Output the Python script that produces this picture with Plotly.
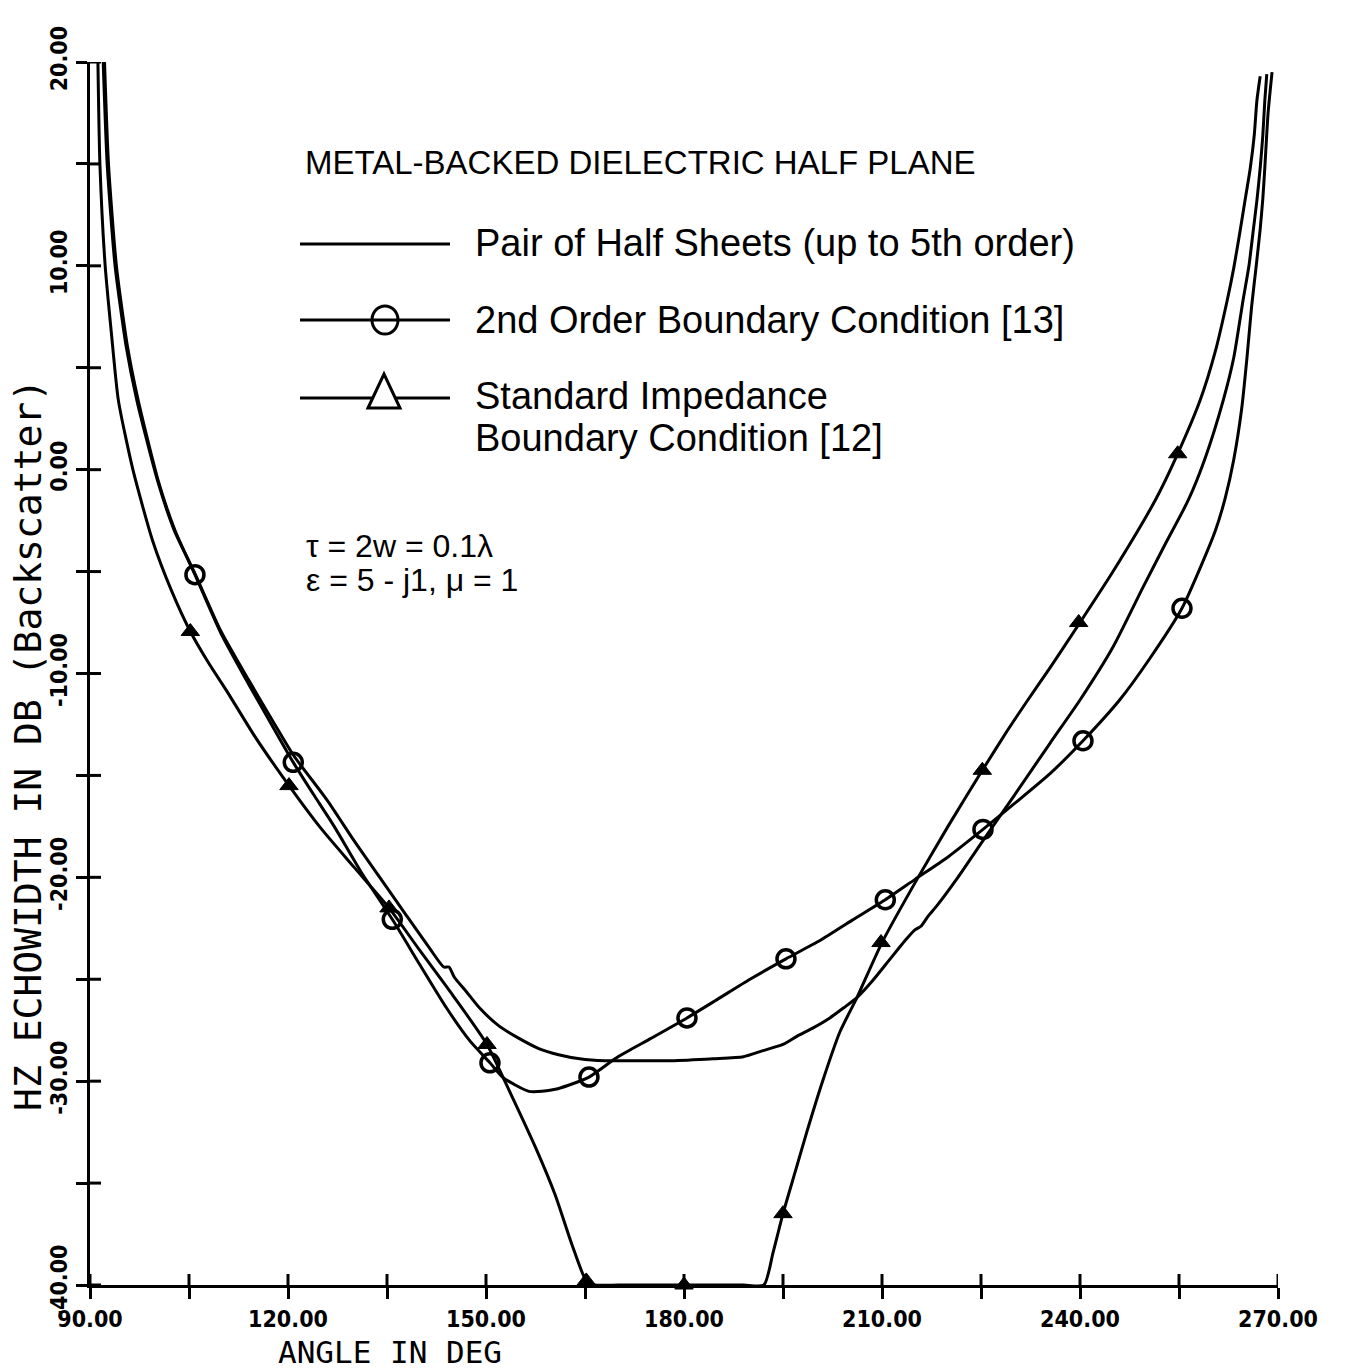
import plotly.graph_objects as go

# ---------------- data ----------------
# Pair of Half Sheets (up to 5th order) -- solid curve
sheets_x = [92.0, 92.6, 93.8, 95.5, 97.1, 100.2, 102.8, 105.9, 109.8, 114.0, 118.0, 120.8,
            125.9, 130.0, 133.9, 138.0, 141.5, 143.6, 144.4, 145.2, 147.0, 149.0, 152.0,
            155.0, 158.0, 161.0, 164.2, 168.0, 171.8, 178.0, 184.4, 189.0, 192.0, 195.0,
            197.1, 199.5, 202.1, 204.2, 206.2, 208.5, 211.0, 213.5, 214.9, 215.9, 217.0,
            218.3, 221.5, 225.3, 230.0, 235.5, 240.0, 245.0, 249.5, 253.0, 256.4, 259.0,
            261.7, 263.3, 264.7, 265.6, 266.2, 266.8, 267.3, 267.7, 268.0, 268.3]
sheets_y = [20.0, 15.0, 10.0, 6.0, 3.4, -0.5, -3.0, -5.1, -7.9, -10.3, -12.5, -14.0,
            -16.2, -18.2, -20.0, -21.9, -23.5, -24.4, -24.4, -24.9, -25.6, -26.4, -27.3,
            -27.9, -28.4, -28.7, -28.9, -29.0, -29.0, -29.0, -28.9, -28.8, -28.5, -28.2,
            -27.8, -27.4, -26.9, -26.4, -25.9, -25.1, -24.1, -23.1, -22.6, -22.4, -21.9,
            -21.4, -20.0, -18.2, -16.0, -13.4, -11.3, -8.7, -5.8, -3.6, -1.5, 0.6,
            3.4, 5.5, 8.3, 10.0, 11.6, 13.2, 14.8, 16.4, 18.1, 19.4]

# 2nd Order Boundary Condition [13] -- curve and circle markers
sobc_x = [92.2, 92.8, 94.0, 95.7, 97.3, 100.3, 102.9, 105.9, 109.8, 114.0, 117.5, 120.8,
          123.8, 127.0, 131.0, 135.8, 140.0, 144.0, 147.5, 150.6, 152.5, 154.5, 156.5,
          158.5, 160.5, 162.5, 165.6, 170.0, 175.0, 180.45, 185.0, 190.0, 195.45, 200.6,
          205.5, 210.5, 215.0, 220.0, 225.3, 230.0, 235.5, 240.45, 246.0, 250.5, 255.45,
          258.5, 260.5, 262.0, 263.3, 264.5, 265.3, 266.0, 266.7, 267.3, 267.7, 268.0,
          268.5, 269.1]
sobc_y = [20.0, 15.0, 10.0, 6.0, 3.4, -0.5, -3.0, -5.15, -8.0, -10.5, -12.5, -14.36,
          -15.9, -17.5, -19.7, -22.06, -24.3, -26.4, -28.0, -29.1, -29.8, -30.2, -30.5,
          -30.5, -30.4, -30.2, -29.8, -28.8, -27.9, -26.9, -26.0, -25.0, -24.0, -23.1,
          -22.1, -21.1, -20.1, -19.0, -17.65, -16.4, -14.9, -13.3, -11.3, -9.3, -6.8,
          -4.6, -3.0, -1.4, 0.5, 3.0, 5.5, 8.0, 10.0, 11.8, 13.3, 14.8, 17.5, 19.5]
sobc_mx = [105.9, 120.8, 135.8, 150.6, 165.6, 180.45, 195.45, 210.5, 225.3, 240.45, 255.45]
sobc_my = [-5.15, -14.36, -22.06, -29.1, -29.8, -26.9, -24.0, -21.1, -17.65, -13.3, -6.8]

# Standard Impedance Boundary Condition [12] -- curve and triangle markers
sibc_x = [91.2, 91.5, 92.3, 93.3, 94.3, 96.5, 99.5, 102.3, 105.2, 108.0, 110.8, 115.0,
          120.15, 125.0, 130.0, 135.3, 140.0, 145.0, 150.15, 154.0, 157.7, 160.5, 163.0,
          165.2, 166.5, 170.0, 175.0, 180.0, 185.0, 189.0, 192.1, 193.5, 195.0, 196.8,
          198.6, 201.0, 203.6, 206.2, 210.0, 215.3, 220.0, 225.2, 229.0, 232.1, 235.5,
          240.0, 245.0, 251.4, 254.8, 258.2, 260.5, 262.3, 263.3, 264.2, 265.0, 265.8,
          266.4, 266.8, 267.3]
sibc_y = [20.0, 15.0, 10.0, 6.5, 3.4, 0.0, -3.5, -5.9, -7.94, -9.5, -10.9, -13.1,
          -15.5, -17.6, -19.5, -21.5, -23.6, -25.8, -28.2, -30.8, -33.4, -35.6, -38.0,
          -39.8, -40.0, -40.0, -40.0, -40.0, -40.0, -40.0, -40.0, -38.4, -36.5, -34.5,
          -32.5, -30.0, -27.6, -25.9, -23.2, -20.1, -17.5, -14.75, -12.8, -11.3, -9.7,
          -7.5, -5.0, -1.5, 0.78, 3.4, 5.8, 8.3, 9.9, 11.6, 13.2, 14.8, 16.4, 18.1, 19.3]
sibc_mx = [105.2, 120.15, 135.3, 150.15, 165.2, 180.0, 195.0, 209.85, 225.2, 239.8, 254.8]
sibc_my = [-7.94, -15.5, -21.5, -28.2, -39.8, -40.0, -36.5, -23.2, -14.75, -7.5, 0.78]

# axis ticks
x_tickvals = [90, 105, 120, 135, 150, 165, 180, 195, 210, 225, 240, 255, 270]
x_ticktext = ["90.00", "", "120.00", "", "150.00", "", "180.00", "", "210.00", "",
              "240.00", "", "270.00"]
y_tickvals = [-40, -35, -30, -25, -20, -15, -10, -5, 0, 5, 10, 15, 20]
y_ticktext = ["-40.00", "", "-30.00", "", "-20.00", "", "-10.00", "", "0.00", "",
              "10.00", "", "20.00"]

# ---------------- layout helpers (pixel -> paper) ----------------
W, H = 1346, 1372
L, R, T, B = 90, 68, 62, 87
PW, PH = W - L - R, H - T - B


def px(xp):
    return (xp - L) / PW


def py(yp):
    return (H - B - yp) / PH


BLACK = "black"
LW = 3
TICKLEN = 11

fig = go.Figure()

# markers first
fig.add_trace(go.Scatter(x=sobc_mx, y=sobc_my, mode="markers", cliponaxis=False,
                         marker=dict(symbol="circle-open", size=18, color=BLACK,
                                     line=dict(width=3.5, color=BLACK)),
                         showlegend=False))
fig.add_trace(go.Scatter(x=sibc_mx, y=sibc_my, mode="markers", cliponaxis=False,
                         marker=dict(symbol="triangle-up", size=16, color=BLACK,
                                     line=dict(width=1, color=BLACK)),
                         showlegend=False))
# curves
for xs, ys in [(sheets_x, sheets_y), (sobc_x, sobc_y), (sibc_x, sibc_y)]:
    fig.add_trace(go.Scatter(x=xs, y=ys, mode="lines",
                             line=dict(color=BLACK, width=LW, shape="spline", smoothing=0.6),
                             showlegend=False))

tick_font = dict(family="Liberation Sans Narrow, DejaVu Sans Condensed, DejaVu Sans Mono",
                 size=23, color=BLACK, weight="bold")

fig.update_layout(
    width=W, height=H,
    margin=dict(l=L, r=R, t=T, b=B, pad=0),
    paper_bgcolor="white", plot_bgcolor="white",
    xaxis=dict(range=[90, 270], tickmode="array", tickvals=x_tickvals, ticktext=x_ticktext,
               ticks="outside", ticklen=TICKLEN, tickwidth=3, tickcolor=BLACK,
               showline=True, linewidth=LW, linecolor=BLACK, showgrid=False,
               zeroline=False, tickfont=tick_font),
    yaxis=dict(range=[-40, 20], tickmode="array", tickvals=y_tickvals, ticktext=y_ticktext,
               ticks="outside", ticklen=TICKLEN, tickwidth=3, tickcolor=BLACK, tickangle=-90,
               showline=True, linewidth=LW, linecolor=BLACK, showgrid=False,
               zeroline=False, tickfont=tick_font),
    showlegend=False,
)

# inward half of the crossing tick marks (pixel-sized shapes anchored on the axes)
for tv in x_tickvals:
    fig.add_shape(type="line", xref="x", yref="y", ysizemode="pixel", yanchor=-40,
                  x0=tv, x1=tv, y0=0, y1=TICKLEN, line=dict(color=BLACK, width=3))
for tv in y_tickvals:
    fig.add_shape(type="line", xref="x", yref="y", xsizemode="pixel", xanchor=90,
                  x0=0, x1=TICKLEN, y0=tv, y1=tv, line=dict(color=BLACK, width=3))

# ---------------- text annotations ----------------
helv = "Liberation Sans, Arial, Helvetica, sans-serif"
mono = "DejaVu Sans Mono, monospace"


def note(text, xp, yp, size, family=helv, xanchor="left", angle=0, yanchor="middle"):
    fig.add_annotation(text=text, x=px(xp), y=py(yp), xref="paper", yref="paper",
                       xanchor=xanchor, yanchor=yanchor, showarrow=False,
                       textangle=angle, borderpad=0,
                       font=dict(family=family, size=size, color=BLACK))


note("METAL-BACKED DIELECTRIC HALF PLANE", 304, 163, 33)
note("Pair of Half Sheets (up to 5th order)", 474, 243, 38)
note("2nd Order Boundary Condition [13]", 474, 320, 38)
note("Standard Impedance", 474, 396, 38)
note("Boundary Condition [12]", 474, 438, 38)
note("τ = 2w = 0.1λ", 305, 546, 32)
note("ε = 5 - j1, μ = 1", 305, 580, 32)
note("ANGLE IN DEG", 390, 1371, 31, family=mono, xanchor="center", yanchor="bottom")
note("HZ ECHOWIDTH IN DB (Backscatter)", 28, 745, 38, family=mono, xanchor="center", angle=-90)

# ---------------- legend samples ----------------
for yl in (244, 320, 398):
    fig.add_shape(type="line", xref="paper", yref="paper",
                  x0=px(300), x1=px(450), y0=py(yl), y1=py(yl),
                  line=dict(color=BLACK, width=LW))
# circle sample
fig.add_shape(type="circle", xref="paper", yref="paper",
              x0=px(372), x1=px(398), y0=py(334), y1=py(306),
              line=dict(color=BLACK, width=3), fillcolor="rgba(0,0,0,0)")
# triangle sample
tri = "M {a},{b} L {c},{d} L {e},{f} Z".format(
    a=px(368), b=py(408), c=px(384), d=py(374), e=px(400), f=py(408))
fig.add_shape(type="path", xref="paper", yref="paper", path=tri,
              line=dict(color=BLACK, width=3), fillcolor="white")

fig.write_html("out.html")
